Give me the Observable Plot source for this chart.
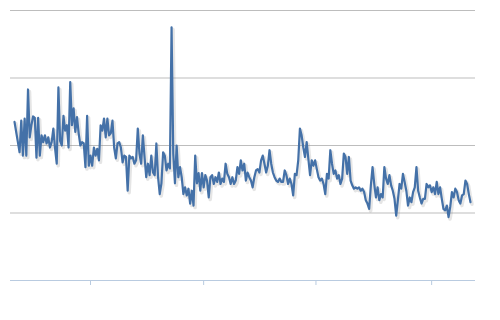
<!DOCTYPE html>
<html>
<head>
<meta charset="utf-8">
<script src="https://cdn.jsdelivr.net/npm/d3@7"></script>
<script src="https://cdn.jsdelivr.net/npm/@observablehq/plot@0.6"></script>
<style>
  html, body { margin: 0; padding: 0; background: #fff; }
  #chart { width: 500px; height: 320px; }
</style>
</head>
<body>
<div id="chart"></div>
<script>
// Series values, in order
const values = [
  2.35, 2.20, 2.05, 1.90, 2.37, 1.85, 2.40, 1.85, 2.83, 2.12,
  2.30, 2.43, 2.41,
  1.82, 2.41, 1.85, 2.15, 2.05, 2.15, 2.03, 2.12, 1.97, 2.05,
  2.25, 1.96, 1.73, 2.86, 2.07, 2.00, 2.44, 2.22, 2.30, 1.97,
  2.94, 2.30, 2.55, 2.20, 2.42, 2.18, 2.00, 2.05, 2.03, 1.68,
  2.44, 1.70, 1.85, 1.70, 1.97, 1.85, 1.95, 1.78, 2.30, 2.22,
  2.40, 2.12, 2.40, 2.15, 2.18, 2.37, 1.97, 1.81, 2.03, 2.05,
  1.97, 1.75, 1.85, 1.83, 1.33, 1.85, 1.81, 1.83, 1.73, 1.78,
  2.25, 1.88, 1.73, 2.15, 1.83, 1.53, 1.73, 1.56, 1.85, 1.60,
  1.56, 2.03, 1.53, 1.28, 1.44, 1.90, 1.85, 1.63, 1.73, 1.66,
  3.75, 1.88, 1.44, 2.00, 1.53, 1.68, 1.53, 1.28, 1.38, 1.26,
  1.36, 1.14, 1.33, 1.11, 1.85, 1.44, 1.59, 1.33, 1.59, 1.38,
  1.56, 1.48, 1.23, 1.53, 1.56, 1.43, 1.53, 1.46, 1.60, 1.43,
  1.51, 1.46, 1.73, 1.58, 1.53, 1.43, 1.53, 1.43, 1.48, 1.68,
  1.58, 1.78, 1.63, 1.73, 1.48, 1.60, 1.53, 1.48, 1.38, 1.53,
  1.63, 1.65, 1.60, 1.78, 1.85, 1.73, 1.60, 1.70, 1.93, 1.73,
  1.60, 1.53, 1.48, 1.46, 1.51, 1.46, 1.46, 1.63, 1.56, 1.43,
  1.51, 1.43, 1.26, 1.58, 1.56, 1.78, 2.25, 2.15, 1.97, 1.83,
  2.05, 1.80, 1.56, 1.78, 1.70, 1.78, 1.65, 1.53, 1.48, 1.51,
  1.43, 1.28, 1.58, 1.51, 1.93, 1.73, 1.58, 1.63, 1.51, 1.56,
  1.43, 1.51, 1.88, 1.83, 1.58, 1.83, 1.48, 1.41, 1.36, 1.38,
  1.36, 1.38, 1.33, 1.36, 1.31, 1.19, 1.14, 1.06, 1.41, 1.68,
  1.43, 1.23, 1.38, 1.19, 1.28, 1.23, 1.68, 1.51, 1.43, 1.56,
  1.41, 1.33, 1.21, 0.96, 1.19, 1.43, 1.36, 1.58, 1.46, 1.33,
  1.11, 1.23, 1.16, 1.31, 1.38, 1.68, 1.33, 1.23, 1.14, 1.21,
  1.21, 1.43, 1.38, 1.41, 1.31, 1.38, 1.28, 1.46, 1.28, 1.38,
  1.21, 1.06, 1.04, 1.11, 0.94, 1.09, 1.31, 1.23, 1.36, 1.31,
  1.19, 1.14, 1.26, 1.28, 1.48, 1.43, 1.28, 1.16
];
// Period index for each value
const periods = values.map((_, i) => i);
// Gridline values and x tick positions (period index); no tick labels shown
const gridValues = [1, 2, 3, 4];
const xTicks = [45, 112, 178.5, 247];

const data = periods.map((p, i) => ({period: p, value: values[i]}));

const chart = Plot.plot({
  width: 500,
  height: 320,
  marginLeft: 14,
  marginRight: 30,
  marginTop: 10,
  marginBottom: 40,
  style: {background: "#fff", overflow: "visible"},
  x: {domain: [0, values.length - 1]},
  y: {domain: [0, 4], axis: null},
  marks: [
    Plot.ruleY(gridValues, {stroke: "#bdbdbd", strokeWidth: 1, insetLeft: -4, insetRight: -5}),
    Plot.ruleY([0], {stroke: "#b9cbe0", strokeWidth: 1.2, insetLeft: -4, insetRight: -5}),
    Plot.axisX(xTicks, {tickSize: 5, stroke: "#b9cbe0", tickFormat: () => "", label: null}),
    Plot.lineY(data, {x: "period", y: "value", stroke: "#999", strokeOpacity: 0.25, strokeWidth: 3.5, dx: 1.5, dy: 2}),
    Plot.lineY(data, {x: "period", y: "value", stroke: "#4471a8", strokeWidth: 2.2, strokeLinejoin: "round"})
  ]
});
document.getElementById("chart").appendChild(chart);
</script>
</body>
</html>
